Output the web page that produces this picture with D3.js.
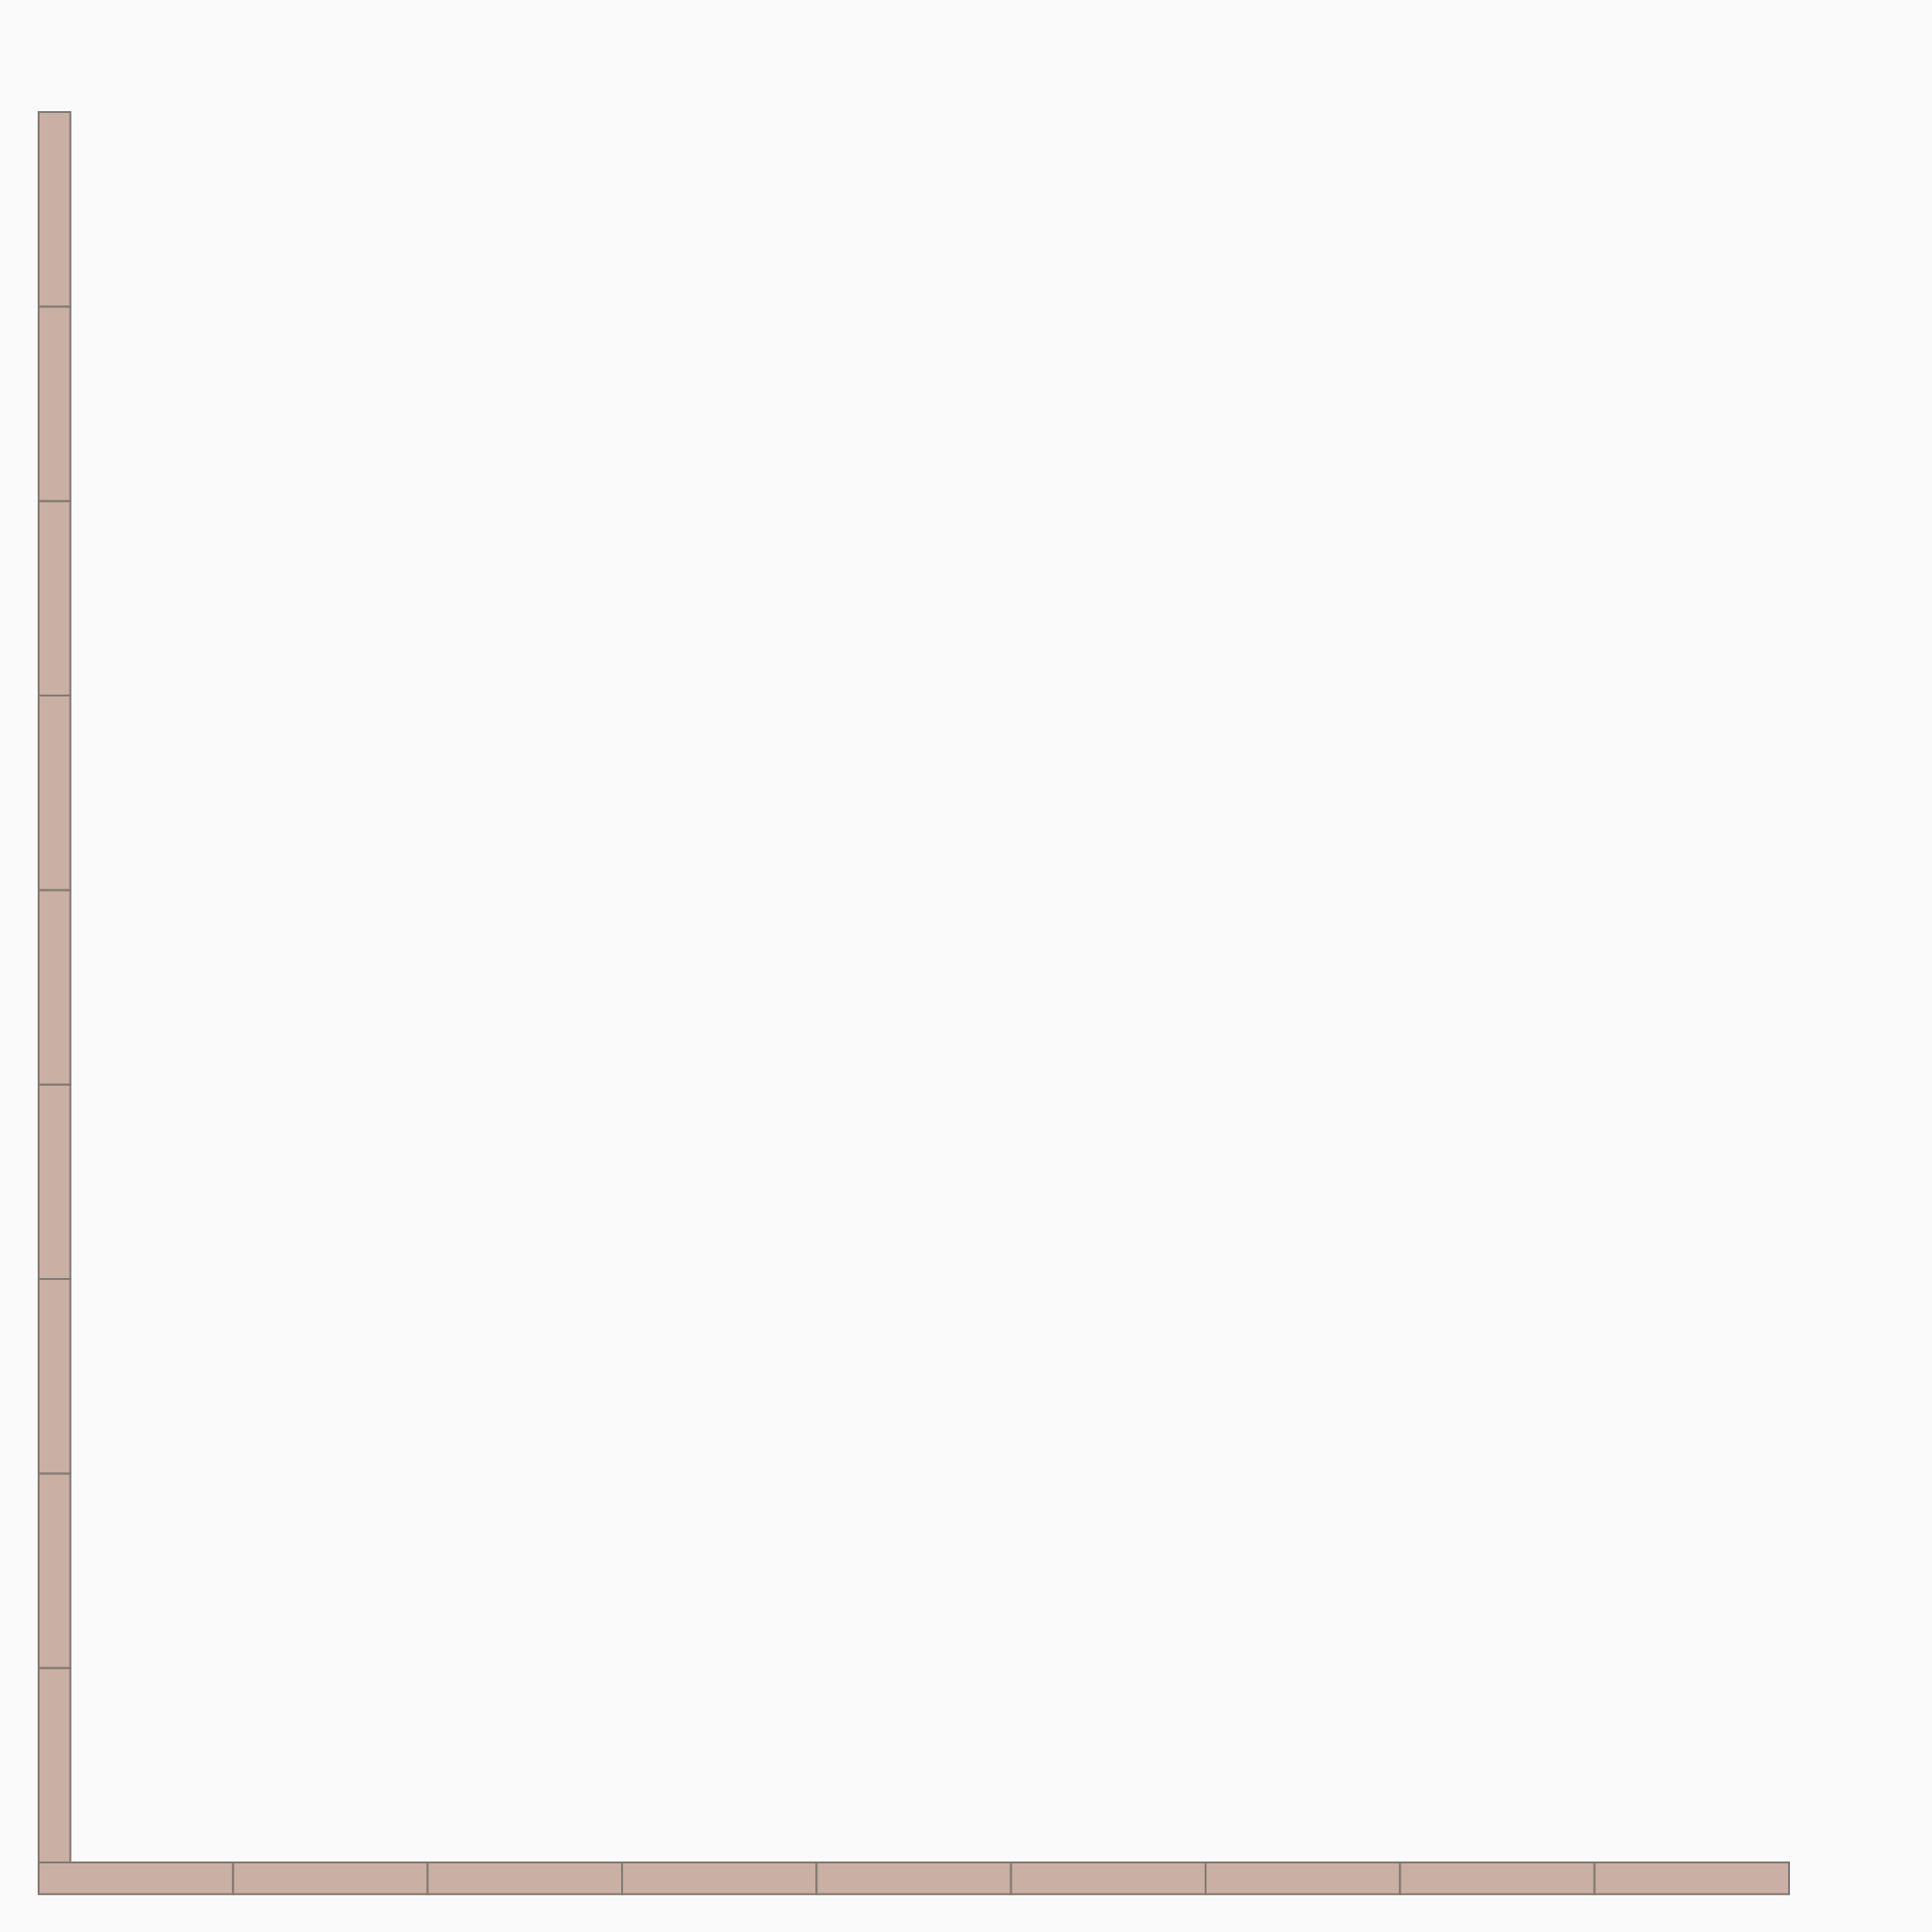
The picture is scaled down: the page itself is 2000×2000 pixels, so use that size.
<!DOCTYPE html>
<html>
<head>
<meta charset="utf-8">
<script src="https://cdn.jsdelivr.net/npm/d3@7"></script>
<style>
html,body{margin:0;padding:0;background:#fafafa;}
svg{display:block;}
</style>
</head>
<body>
<svg id="chart" width="2000" height="2000"></svg>
<script>
// Data: cells along the bottom row and the left column (one unit each)
const rowCells = [0, 1, 2, 3, 4, 5, 6, 7, 8];
const columnCells = [0, 1, 2, 3, 4, 5, 6, 7, 8];
const cellSpan = 1;
const barThickness = 0.163;
const domainMax = 9;

const svg = d3.select("#chart");
const x = d3.scaleLinear().domain([0, domainMax]).range([40, 1852]);
const y = d3.scaleLinear().domain([0, domainMax]).range([1928, 116]);
const unit = x(1) - x(0);

const fill = "#c9afa4";
const stroke = "#857a72";

// Bottom row
svg.append("g").selectAll("rect").data(rowCells).join("rect")
  .attr("x", d => x(d))
  .attr("y", y(0))
  .attr("width", d => x(d + cellSpan) - x(d))
  .attr("height", barThickness * unit)
  .attr("fill", fill)
  .attr("stroke", stroke)
  .attr("stroke-width", 2);

// Left column
svg.append("g").selectAll("rect").data(columnCells).join("rect")
  .attr("x", x(0))
  .attr("y", d => y(d + cellSpan))
  .attr("width", barThickness * unit)
  .attr("height", d => y(d) - y(d + cellSpan))
  .attr("fill", fill)
  .attr("stroke", stroke)
  .attr("stroke-width", 2);
</script>
</body>
</html>
